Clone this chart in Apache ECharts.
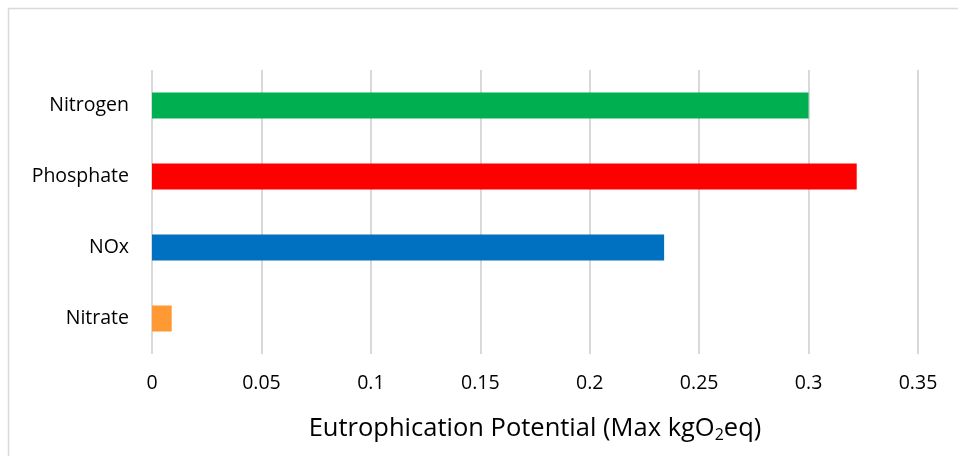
<!DOCTYPE html>
<html>
<head>
<meta charset="utf-8">
<script src="https://cdn.jsdelivr.net/npm/echarts@6/dist/echarts.min.js"></script>
<style>
  html, body { margin: 0; padding: 0; background: #fff; }
  #chart { width: 958px; height: 456px; }
</style>
</head>
<body>
<div id="chart"></div>
<script>
// Eutrophication potential by emission type (top to bottom)
const categories = ['Nitrogen', 'Phosphate', 'NOx', 'Nitrate'];
const values = [0.3, 0.322, 0.234, 0.009];
const barColors = ['#00B050', '#FF0000', '#0070C0', '#FF9933'];
const xTicks = { min: 0, max: 0.35, interval: 0.05 };

const FONT = 'Open Sans';
const chart = echarts.init(document.getElementById('chart'), null, { renderer: 'canvas' });

chart.setOption({
  animation: false,
  backgroundColor: '#ffffff',
  textStyle: { fontFamily: FONT },
  graphic: [{
    type: 'rect',
    shape: { x: 8.5, y: 8.5, width: 1000, height: 1000 },
    style: { fill: 'none', stroke: '#d9d9d9', lineWidth: 1.5 },
    silent: true
  }],
  grid: { left: 152, right: 40, top: 70, height: 284, containLabel: false },
  xAxis: {
    type: 'value',
    min: xTicks.min,
    max: xTicks.max,
    interval: xTicks.interval,
    axisLine: { show: false },
    axisTick: { show: false },
    splitLine: { show: true, lineStyle: { color: '#d9d9d9', width: 2 } },
    axisLabel: {
      color: '#000',
      fontSize: 19.5,
      fontFamily: FONT,
      margin: 19,
      formatter: v => String(Math.round(v * 100) / 100)
    },
    name: 'Eutrophication Potential (Max kgO{sub|2}eq)',
    nameLocation: 'middle',
    nameGap: 60,
    nameTextStyle: {
      color: '#000',
      fontSize: 25.5,
      fontFamily: FONT,
      rich: {
        sub: { fontSize: 16, fontFamily: FONT, color: '#000', padding: [13, 0, 0, 0], verticalAlign: 'bottom' }
      }
    }
  },
  yAxis: {
    type: 'category',
    data: categories,
    inverse: true,
    axisLine: { show: false },
    axisTick: { show: false },
    axisLabel: { color: '#000', fontSize: 19.5, fontFamily: FONT, margin: 23 }
  },
  series: [{
    type: 'bar',
    barWidth: 26,
    data: values.map((v, i) => ({ value: v, itemStyle: { color: barColors[i] } }))
  }]
});
</script>
</body>
</html>
